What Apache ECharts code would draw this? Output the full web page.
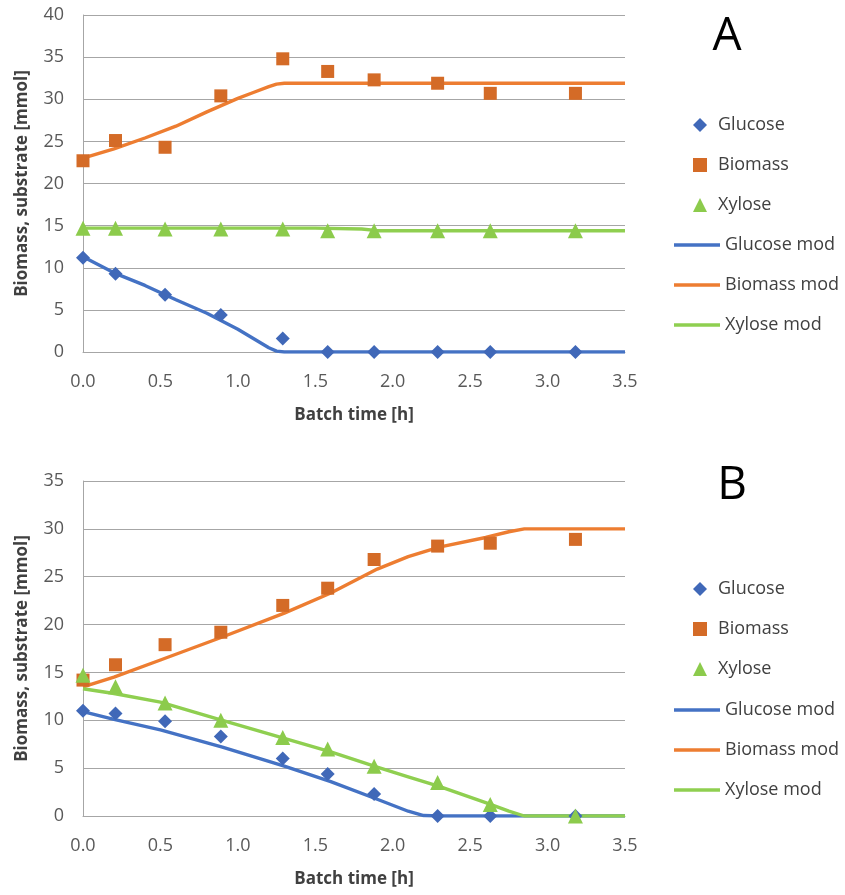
<!DOCTYPE html>
<html>
<head>
<meta charset="utf-8">
<script src="https://cdn.jsdelivr.net/npm/echarts@6/dist/echarts.min.js"></script>
<style>
html,body{margin:0;padding:0;background:#fff;}
#chart{width:845px;height:895px;}
</style>
</head>
<body>
<div id="chart"></div>
<script>
// ---- Panel A data ----
const timeA = [0, 0.21, 0.53, 0.89, 1.29, 1.58, 1.88, 2.29, 2.63, 3.18];
const glucoseA = [11.2, 9.3, 6.8, 4.4, 1.6, 0, 0, 0, 0, 0];
const biomassA = [22.7, 25.1, 24.3, 30.4, 34.8, 33.3, 32.3, 31.9, 30.7, 30.7];
const xyloseA = [14.7, 14.7, 14.6, 14.6, 14.6, 14.4, 14.4, 14.4, 14.4, 14.4];

const modTimeA = [0, 0.2, 0.4, 0.6, 0.8, 1.0, 1.1, 1.2, 1.25, 1.3, 1.5, 1.8, 1.9, 2.5, 3.0, 3.5];
const glucoseModA = [11.3, 9.4, 7.9, 6.2, 4.6, 2.7, 1.6, 0.5, 0.1, 0, 0, 0, 0, 0, 0, 0];
const biomassModA = [23.0, 24.1, 25.4, 26.8, 28.5, 30.1, 30.8, 31.5, 31.8, 31.9, 31.9, 31.9, 31.9, 31.9, 31.9, 31.9];
const xyloseModA = [14.7, 14.7, 14.7, 14.7, 14.7, 14.7, 14.7, 14.7, 14.7, 14.7, 14.7, 14.6, 14.4, 14.4, 14.4, 14.4];

// ---- Panel B data ----
const timeB = [0, 0.21, 0.53, 0.89, 1.29, 1.58, 1.88, 2.29, 2.63, 3.18];
const glucoseB = [11.0, 10.7, 9.9, 8.3, 6.0, 4.4, 2.3, 0, 0, 0];
const biomassB = [14.2, 15.8, 17.9, 19.2, 22.0, 23.8, 26.8, 28.2, 28.5, 28.9];
const xyloseB = [14.7, 13.5, 11.8, 10.0, 8.2, 7.0, 5.2, 3.5, 1.2, 0];

const modTimeB = [0, 0.2, 0.5, 0.9, 1.3, 1.6, 1.9, 2.1, 2.2, 2.3, 2.6, 2.75, 2.85, 3.0, 3.5];
const glucoseModB = [10.9, 10.1, 9.0, 7.2, 5.2, 3.6, 1.75, 0.5, 0.05, 0, 0, 0, 0, 0, 0];
const biomassModB = [13.5, 14.5, 16.3, 18.7, 21.2, 23.3, 25.8, 27.1, 27.6, 28.1, 29.1, 29.7, 30.0, 30.0, 30.0];
const xyloseModB = [13.3, 12.8, 11.9, 10.0, 8.1, 6.7, 5.1, 4.1, 3.6, 3.1, 1.4, 0.5, 0, 0, 0];

const xTicks = ['0.0', '0.5', '1.0', '1.5', '2.0', '2.5', '3.0', '3.5'];
const yMaxA = 40, yMaxB = 35;
const panelLabels = ['A', 'B'];
const markerNames = ['Glucose', 'Biomass', 'Xylose'];
const lineNames = ['Glucose mod', 'Biomass mod', 'Xylose mod'];

const FONT = '"Open Sans", "Noto Sans", sans-serif';
const markerColors = ['#4068B8', '#D46B27', '#8CCB4C'];
const lineColors = ['#4472C4', '#ED7D31', '#8FCF50'];
const symbols = ['diamond', 'rect', 'triangle'];
const symSizes = [14, 13, 15];
const gridColor = '#A6A6A6';
const LINE_ICON = 'path://M0,0 M46,0 M0,14 M46,14 M0,5.3 L46,5.3 L46,8.7 L0,8.7 Z';

function pairs(xs, ys) { return xs.map((x, i) => [x, ys[i]]); }

function xAxisOf(gi) {
  return {
    type: 'value', gridIndex: gi, min: 0, max: 3.5, interval: 0.5,
    name: 'Batch time [h]', nameLocation: 'middle', nameGap: 55,
    nameTextStyle: { fontFamily: FONT, fontSize: 17, fontWeight: 'bold', color: '#404040' },
    axisLine: { show: true, lineStyle: { color: gridColor, width: 1 } },
    axisTick: { show: false },
    splitLine: { show: false },
    axisLabel: {
      fontFamily: FONT, fontSize: 18, color: '#595959', margin: 21,
      formatter: v => xTicks[Math.round(v / 0.5)]
    }
  };
}
function yAxisOf(gi, max) {
  return {
    type: 'value', gridIndex: gi, min: 0, max: max, interval: 5,
    name: 'Biomass, substrate [mmol]', nameLocation: 'middle', nameGap: 52,
    nameTextStyle: { fontFamily: FONT, fontSize: 17, fontWeight: 'bold', color: '#404040' },
    axisLine: { show: true, lineStyle: { color: gridColor, width: 1 } },
    axisTick: { show: false },
    splitLine: { show: true, lineStyle: { color: gridColor, width: 1 } },
    axisLabel: { fontFamily: FONT, fontSize: 18, color: '#595959', margin: 19 }
  };
}

const series = [];
function addPanel(gi, t, meas, mt, mods) {
  mods.forEach((m, i) => {
    series.push({
      type: 'line', name: lineNames[i], xAxisIndex: gi, yAxisIndex: gi,
      data: pairs(mt, m), symbol: 'none', showSymbol: false, smooth: false,
      lineStyle: { color: lineColors[i], width: 3.4 }, itemStyle: { color: lineColors[i] },
      z: 2, animation: false
    });
  });
  meas.forEach((m, i) => {
    series.push({
      type: 'scatter', name: markerNames[i], xAxisIndex: gi, yAxisIndex: gi,
      data: pairs(t, m), symbol: symbols[i], symbolSize: symSizes[i],
      itemStyle: { color: markerColors[i], opacity: 1 }, z: 3, animation: false
    });
  });
}
addPanel(0, timeA, [glucoseA, biomassA, xyloseA], modTimeA, [glucoseModA, biomassModA, xyloseModA]);
addPanel(1, timeB, [glucoseB, biomassB, xyloseB], modTimeB, [glucoseModB, biomassModB, xyloseModB]);

function markerLegend(top) {
  return {
    orient: 'vertical', left: 688, top: top, itemWidth: 14, itemHeight: 14, itemGap: 22,
    data: markerNames.map((n, i) => ({ name: n, icon: symbols[i] })),
    textStyle: { fontFamily: FONT, fontSize: 18, color: '#404040', padding: [0, 0, 0, 6] },
    selectedMode: false
  };
}
function lineLegend(top) {
  return {
    orient: 'vertical', left: 669, top: top, itemWidth: 46, itemHeight: 14, itemGap: 22,
    data: lineNames.map(n => ({ name: n, icon: LINE_ICON })),
    textStyle: { fontFamily: FONT, fontSize: 18, color: '#404040' },
    selectedMode: false
  };
}

const chart = echarts.init(document.getElementById('chart'), null, { renderer: 'canvas' });
chart.setOption({
  animation: false,
  backgroundColor: '#ffffff',
  grid: [
    { left: 83, top: 15, width: 542, height: 337, containLabel: false },
    { left: 83, top: 481, width: 542, height: 335, containLabel: false }
  ],
  xAxis: [xAxisOf(0), xAxisOf(1)],
  yAxis: [yAxisOf(0, yMaxA), yAxisOf(1, yMaxB)],
  legend: [markerLegend(111), lineLegend(231), markerLegend(575), lineLegend(696)],
  title: [
    { text: panelLabels[0], left: 722, top: 32, textAlign: 'center', textVerticalAlign: 'middle',
      textStyle: { fontFamily: FONT, fontSize: 46, fontWeight: 'normal', color: '#000' } },
    { text: panelLabels[1], left: 727, top: 481, textAlign: 'center', textVerticalAlign: 'middle',
      textStyle: { fontFamily: FONT, fontSize: 46, fontWeight: 'normal', color: '#000' } }
  ],
  series: series
});
</script>
</body>
</html>
